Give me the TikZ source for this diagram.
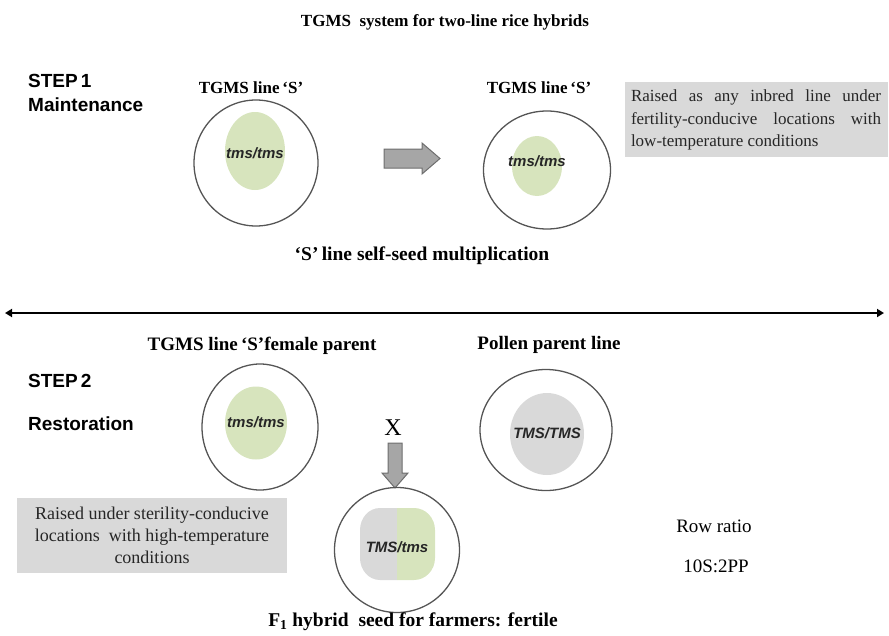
\documentclass[tikz,border=0pt]{standalone}
\usepackage{fontspec}
\setmainfont{Liberation Serif}
\setsansfont{Liberation Sans}
\usetikzlibrary{shapes.geometric,arrows.meta}
\definecolor{ringc}{HTML}{555555}
\definecolor{leafg}{HTML}{D7E4BD}
\definecolor{coreg}{HTML}{D9D9D9}
\definecolor{boxg}{HTML}{D9D9D9}
\definecolor{arrowg}{HTML}{A6A6A6}
\definecolor{arrowd}{HTML}{6E6E6E}
\begin{document}
\begin{tikzpicture}[x=1pt,y=-1pt,
  ring/.style={draw=ringc, line width=1.3pt, ellipse, inner sep=0pt},
  blob/.style={ellipse, inner sep=0pt},
  geno/.style={font=\sffamily\bfseries\itshape\fontsize{15}{18}\selectfont, text=black!85},
  lab/.style={font=\bfseries\fontsize{17}{20}\selectfont, inner sep=0pt},
  labb/.style={font=\bfseries\fontsize{19}{22}\selectfont, inner sep=0pt},
  head/.style={font=\bfseries\fontsize{17}{20}\selectfont, inner sep=0pt},
  capt/.style={font=\bfseries\fontsize{19.5}{22}\selectfont, inner sep=0pt},
  stepl/.style={font=\sffamily\bfseries\fontsize{19}{22}\selectfont, anchor=west, inner sep=0pt},
  plain/.style={font=\fontsize{19}{22}\selectfont, inner sep=0pt},
  blockarrow/.style={fill=arrowg, draw=arrowd, line width=1pt, line join=miter},
  notebox/.style={fill=boxg, draw=none}
]
\useasboundingbox (0,0) rectangle (889,635);

% title
\node[head] (title) at (445,22) {TGMS\ \ system for two-line rice hybrids};

% STEP 1
\node[stepl] (s1) at (28,81) {STEP\,1};
\node[stepl] (m1) at (28,105) {Maintenance};

\node[lab] (l1) at (251,88) {TGMS line\,‘S’};
\node[ring, minimum width=124pt, minimum height=126pt] (c1) at (256,163) {};
\node[blob, fill=leafg, minimum width=60pt, minimum height=78pt] (g1) at (255,151) {};
\node[geno] (t1) at (255,153) {tms/tms};

\node[lab] (l2) at (539,88) {TGMS line\,‘S’};
\node[ring, minimum width=127pt, minimum height=118pt] (c2) at (547,170) {};
\node[blob, fill=leafg, minimum width=50pt, minimum height=60pt] (g2) at (537,166) {};
\node[geno] (t2) at (537,161) {tms/tms};

% right arrow
\draw[blockarrow] (384,149) -- (422,149) -- (422,143) -- (440,158.5) -- (422,174) -- (422,168) -- (384,168) -- cycle;

% note box 1
\fill[notebox] (625,82) rectangle (888,157);
\node[font=\fontsize{17}{22.5}\selectfont, text width=250pt, align=justify, inner sep=0pt, text=black!85] (n1) at (756,120)
  {Raised as any inbred line under fertility-conducive locations with low-temperature conditions};

\node[capt] (cap1) at (422,256) {‘S’\,line self-seed multiplication};

% separator
\coordinate (hl) at (5,313);
\coordinate (hr) at (884,313);
\draw[line width=2pt, {Triangle[length=7pt,width=8pt]}-{Triangle[length=7pt,width=8pt]}] (hl) -- (hr);

% STEP 2
\node[labb] (l3) at (262,346) {TGMS line\,‘S’female parent};
\node[labb] (l4) at (549,345) {Pollen parent line};
\node[stepl] (s2) at (28,381) {STEP\,2};
\node[stepl] (r2) at (28,424) {Restoration};

\node[ring, minimum width=116pt, minimum height=126pt] (c3) at (260,427) {};
\node[blob, fill=leafg, minimum width=62pt, minimum height=73pt] (g3) at (256,423) {};
\node[geno] (t3) at (256,422) {tms/tms};

\node[ring, minimum width=132pt, minimum height=121pt] (c4) at (546,430) {};
\node[blob, fill=coreg, minimum width=74pt, minimum height=82pt] (g4) at (547,434) {};
\node[geno] (t4) at (547,433) {TMS/TMS};

\node[font=\fontsize{24}{26}\selectfont, inner sep=0pt] (x) at (393,428) {X};
\draw[blockarrow] (388,443) -- (402,443) -- (402,473) -- (408,473) -- (395,488) -- (382,473) -- (388,473) -- cycle;

\node[ring, minimum width=125pt, minimum height=125pt] (c5) at (397,550) {};
\fill[coreg] (397,508) -- (380,508) to[out=180,in=90] (360,530) -- (360,558) to[out=-90,in=180] (380,580) -- (397,580) -- cycle;
\fill[leafg] (397,508) -- (414,508) to[out=0,in=90] (435,530) -- (435,558) to[out=-90,in=0] (414,580) -- (397,580) -- cycle;
\node[geno] (t5) at (397,547) {TMS/tms};

% note box 2
\fill[notebox] (17,498) rectangle (287,573);
\node[font=\fontsize{18}{22}\selectfont, align=center, inner sep=0pt, text=black!85] (n2) at (152,535.5)
  {Raised under sterility-conducive\\locations\ \ with high-temperature\\conditions};

\node[plain] (rr) at (714,526) {Row ratio};
\node[plain] (rr2) at (716,566) {10S:2PP};

\node[capt] (cap2) at (413,622) {F$_{\mathbf 1}$ hybrid\ \ seed for farmers: fertile};
\end{tikzpicture}
\end{document}
